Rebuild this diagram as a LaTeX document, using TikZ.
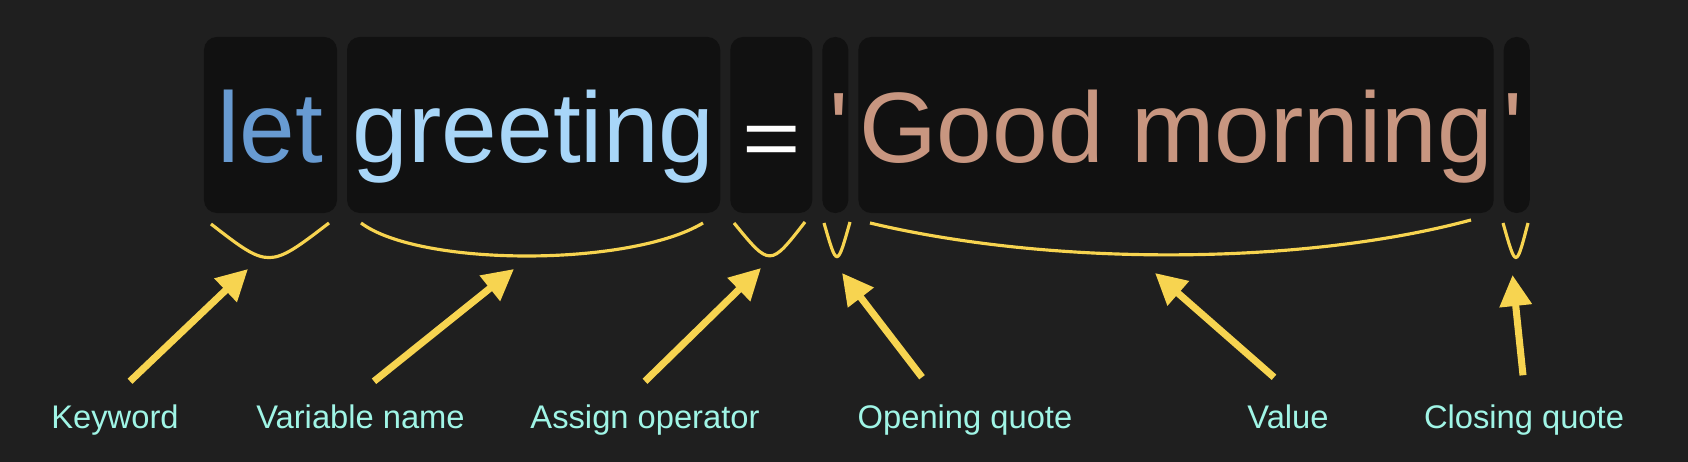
\documentclass[tikz,border=0pt]{standalone}
\usepackage{fontspec}
\setmainfont{Liberation Sans}
\usepackage{tikz}
\usetikzlibrary{positioning}
\usetikzlibrary{arrows.meta}
\definecolor{bgcol}{RGB}{31,31,31}
\definecolor{boxcol}{RGB}{17,17,17}
\definecolor{kwcol}{RGB}{104,155,210}
\definecolor{varcol}{RGB}{168,214,248}
\definecolor{strcol}{RGB}{200,150,128}
\definecolor{marker}{RGB}{247,212,80}
\definecolor{tagcol}{RGB}{160,245,230}
\tikzset{
    code line/.style={
            x=0.01cm,y=-0.01cm,
            node distance=0.1cm,
            codebox/.style={fill=boxcol,rounded corners=0.13cm,minimum height=1.76cm,inner sep=0pt,outer sep=0pt,
                text height=0.9cm,text depth=0.146cm,font=\fontsize{28.45}{34}\selectfont},
            brace/.style={draw=marker,line width=0.9pt},
            pointer/.style={-{Triangle[length=0.31cm,width=0.31cm]},draw=marker,line width=2pt},
            tag/.style={text=tagcol,anchor=base,inner sep=0pt,text height=0.24cm,font=\fontsize{9.3}{11}\selectfont}
        }
    }

\begin{document}
\begin{tikzpicture}[code line]
    \fill[bgcol] (0,0) rectangle (1688,462);
    \useasboundingbox (0,0) rectangle (1688,462);
    % the statement, one box per token
    \node[codebox,minimum width=1.33cm,text=kwcol] (let) at (270.5,125) {let};
    \node[codebox,minimum width=3.73cm,text=varcol,right=of let] (greeting) {greeting};
    \node[codebox,minimum width=0.82cm,text=white,right=of greeting] (assign) {\raisebox{-0.035cm}{\scalebox{1}[0.82]{=}}};
    \node[codebox,text width=0.26cm,align=right,text=strcol,right=of assign] (openq) {\textquotesingle};
    \node[codebox,minimum width=6.35cm,text=strcol,right=of openq] (value) {Good morning};
    \node[codebox,text width=0.26cm,align=left,text=strcol,right=of value] (closeq) {\textquotesingle};
    % braces under the tokens
    \draw[brace] (211,224) .. controls (269,269) .. (329,223);
    \draw[brace] (361,223) .. controls (420,267) and (630,267) .. (703,223);
    \draw[brace] (734,223) .. controls (770,267) .. (805,222);
    \draw[brace] (824,223) .. controls (837,268) .. (850,222);
    \draw[brace] (870,223) .. controls (1050,266) and (1300,266) .. (1471,220);
    \draw[brace] (1503,223) .. controls (1516,269) .. (1528,223);
    \coordinate (kwtip) at (248,269);
    \coordinate (vartip) at (514,269);
    \coordinate (optip) at (761,268);
    \coordinate (oqtip) at (842,273);
    \coordinate (valtip) at (1155,273);
    \coordinate (cqtip) at (1512.5,275);
    % labels
    \node[tag] (kw) at (115,429) {Keyword};
    \node[tag] (varname) at (360.5,429) {Variable name};
    \node[tag] (op) at (645,429) {Assign operator};
    \node[tag] (oq) at (965,429) {Opening quote};
    \node[tag] (val) at (1288,429) {Value};
    \node[tag] (cq) at (1524,429) {Closing quote};
    \draw[pointer] ([shift={(15,-23)}]kw.north) -- (kwtip);
    \draw[pointer] ([shift={(13.5,-23)}]varname.north) -- (vartip);
    \draw[pointer] ([shift={(0,-23)}]op.north) -- (optip);
    \draw[pointer] ([shift={(-43,-27)}]oq.north) -- (oqtip);
    \draw[pointer] ([shift={(-14,-27)}]val.north) -- (valtip);
    \draw[pointer] ([shift={(-1,-29)}]cq.north) -- (cqtip);
\end{tikzpicture}
\end{document}
